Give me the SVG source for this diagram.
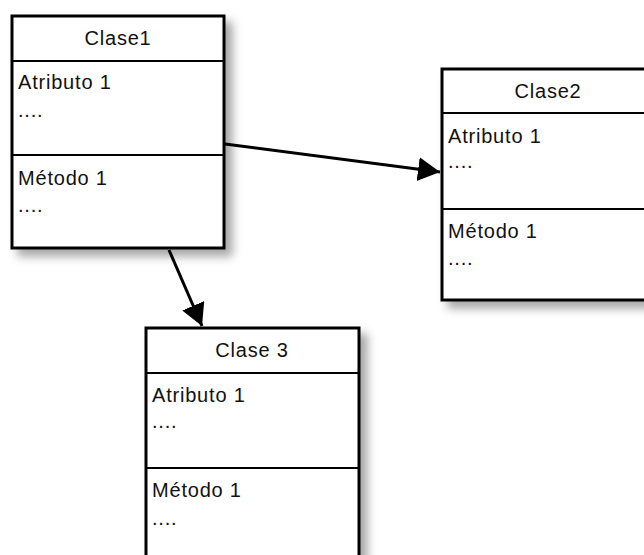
<svg xmlns="http://www.w3.org/2000/svg" width="644" height="555" viewBox="0 0 644 555">
<style>
.box{fill:#fff;stroke:#000;stroke-width:3}
.div{stroke:#000;stroke-width:2.2}
.t{font-family:"Liberation Sans",Arial,sans-serif;font-size:20px;fill:#111;letter-spacing:0.8px}
.c{text-anchor:middle}
.e{stroke:#000;stroke-width:3;fill:none}
</style>
<defs>
<filter id="sh" x="-20%" y="-20%" width="150%" height="150%">
<feDropShadow dx="7" dy="7" stdDeviation="5" flood-color="#000" flood-opacity="0.35"/>
</filter>
<marker id="ah" markerUnits="userSpaceOnUse" markerWidth="26" markerHeight="26" refX="22" refY="12" orient="auto">
<path d="M0,0 L22,12 L0,24 Z" fill="#000"/>
</marker>
</defs>
<rect width="644" height="555" fill="#fff"/>
<g id="clase1">
<rect class="box" x="12" y="16" width="212" height="232" filter="url(#sh)"/>
<line class="div" x1="12" y1="61" x2="224" y2="61"/>
<line class="div" x1="12" y1="155" x2="224" y2="155"/>
<text class="t c" x="118" y="45">Clase1</text>
<text class="t" x="18" y="89">Atributo 1</text>
<text class="t" x="18" y="117">....</text>
<text class="t" x="18" y="185">Método 1</text>
<text class="t" x="18" y="212">....</text>
</g>
<g id="clase2">
<rect class="box" x="442" y="69" width="212" height="231" filter="url(#sh)"/>
<line class="div" x1="442" y1="113" x2="654" y2="113"/>
<line class="div" x1="442" y1="209" x2="654" y2="209"/>
<text class="t c" x="548" y="98">Clase2</text>
<text class="t" x="448" y="143">Atributo 1</text>
<text class="t" x="448" y="168">....</text>
<text class="t" x="448" y="238">Método 1</text>
<text class="t" x="448" y="265">....</text>
</g>
<g id="clase3">
<rect class="box" x="146" y="328" width="213" height="240" filter="url(#sh)"/>
<line class="div" x1="146" y1="373" x2="359" y2="373"/>
<line class="div" x1="146" y1="468" x2="359" y2="468"/>
<text class="t c" x="252" y="357">Clase 3</text>
<text class="t" x="152" y="402">Atributo 1</text>
<text class="t" x="152" y="428">....</text>
<text class="t" x="152" y="497">Método 1</text>
<text class="t" x="152" y="525">....</text>
</g>
<g id="connectors">
<line class="e" x1="225" y1="144" x2="440" y2="172" marker-end="url(#ah)"/>
<line class="e" x1="169" y1="250" x2="202" y2="326" marker-end="url(#ah)"/>
</g>
</svg>
